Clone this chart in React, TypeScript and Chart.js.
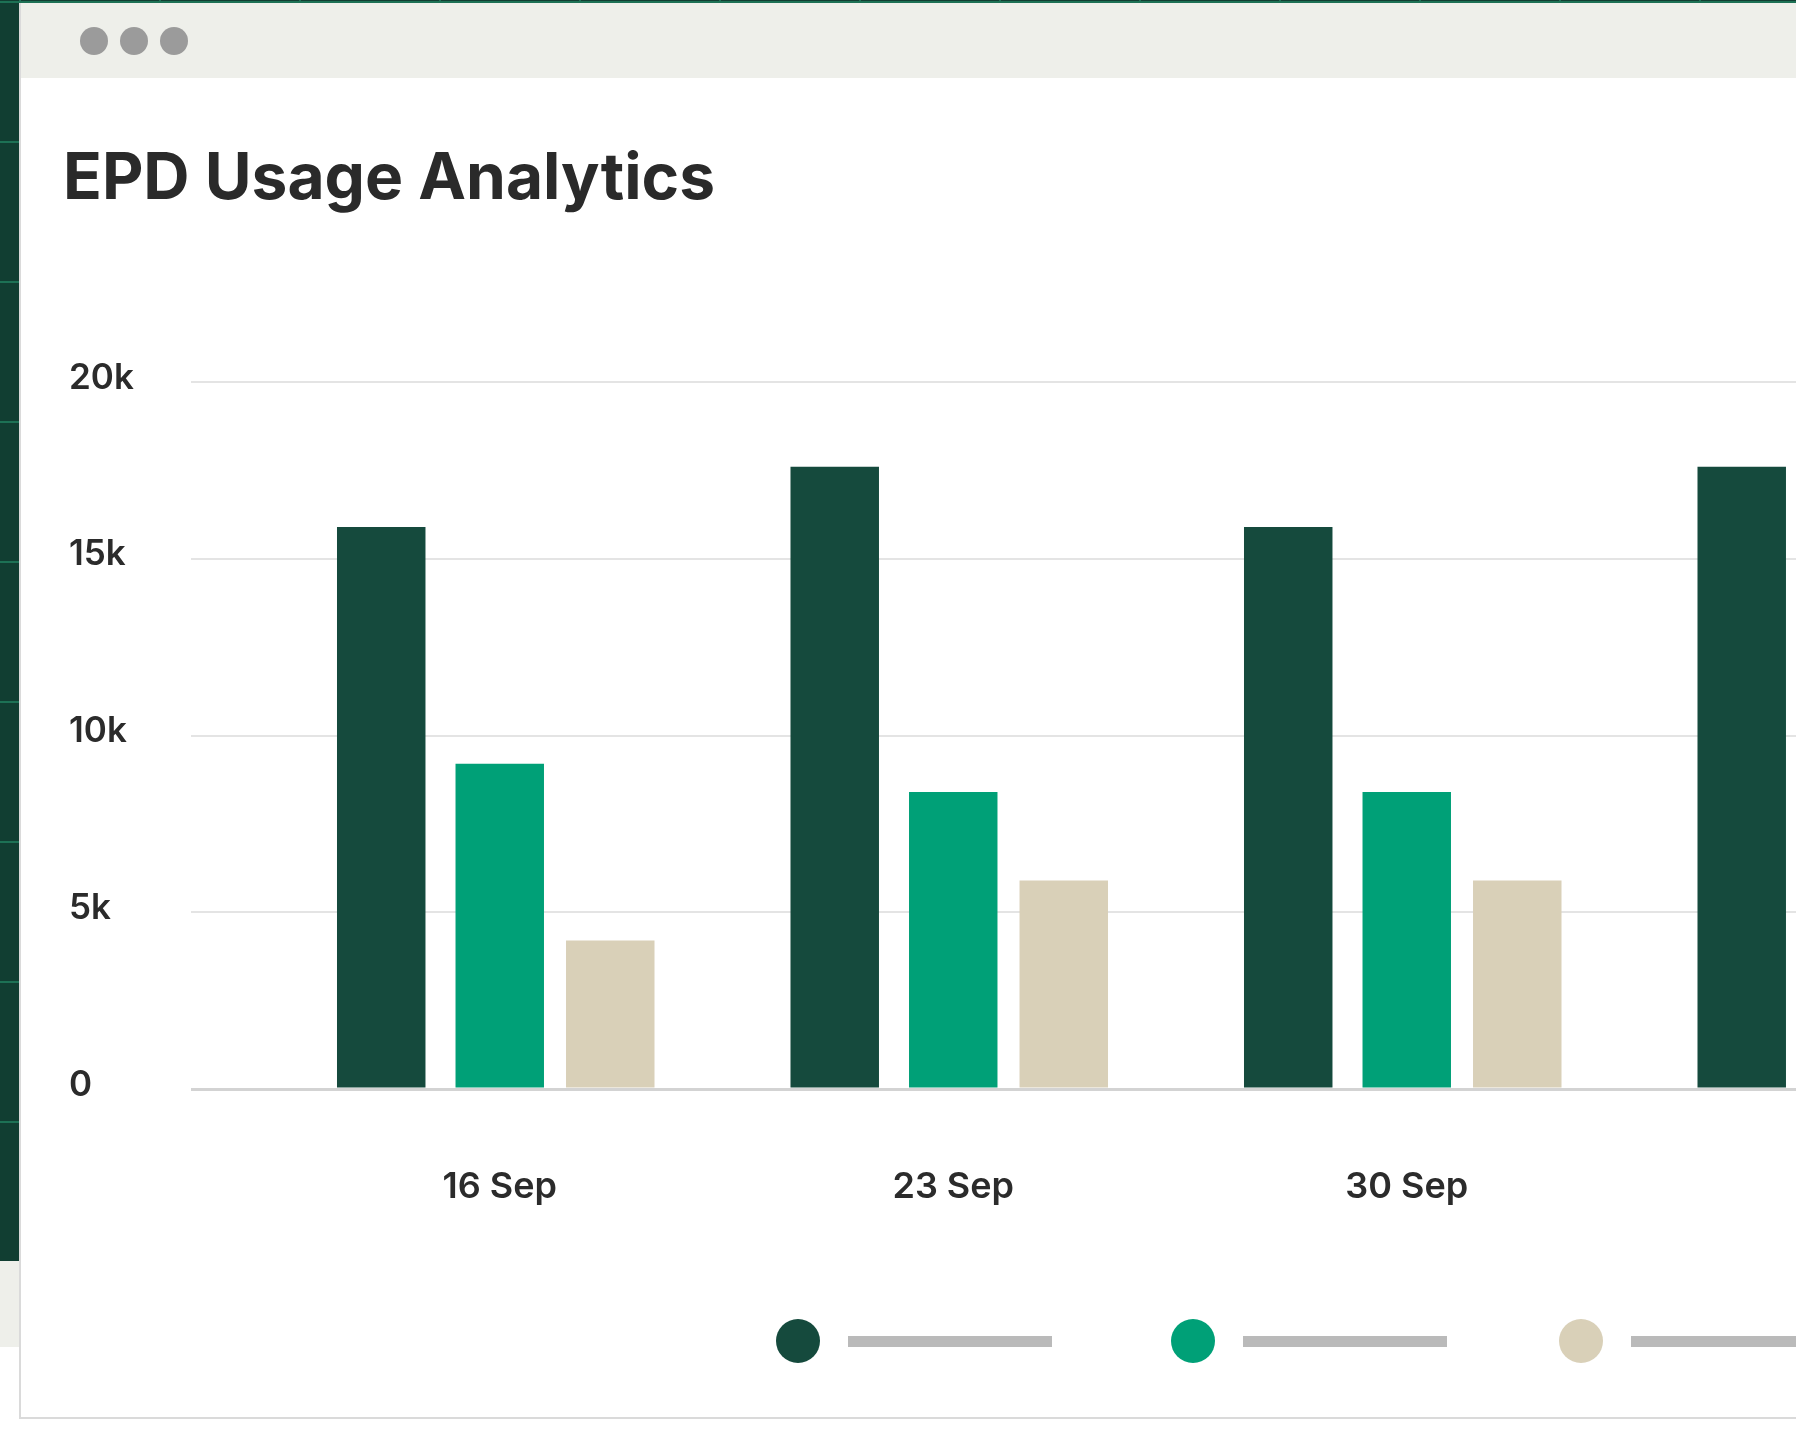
import React, { useEffect, useRef } from "react";
import { Chart, registerables } from "chart.js";

Chart.register(...registerables);

const categories = ["16 Sep", "23 Sep", "30 Sep", "7 Oct"];
const seriesNames = ["Series A", "Series B", "Series C"];
const seriesA = [15900, 17600, 15900, 17600];
const seriesB = [9200, 8400, 8400, 9200];
const seriesC = [4200, 5900, 5900, 4200];
const seriesColors = ["#154a3d", "#00a077", "#d9d0b8"];
const yTicks = [0, 5000, 10000, 15000, 20000];

// per-series grouping style (spacing inside each group)
const seriesCategoryPct = [0.784, 0.76, 0.7311];
const seriesBarPct = [0.7466, 0.770, 0.8007];

const FONT = "Inter, 'Noto Sans', sans-serif";

export default function App() {
  const canvasRef = useRef<HTMLCanvasElement | null>(null);

  useEffect(() => {
    if (!canvasRef.current) return;
    const chart = new Chart(canvasRef.current, {
      type: "bar",
      data: {
        labels: categories,
        datasets: [seriesA, seriesB, seriesC].map((d, i) => ({
          label: seriesNames[i],
          data: d,
          backgroundColor: seriesColors[i],
          borderWidth: 0,
          categoryPercentage: seriesCategoryPct[i],
          barPercentage: seriesBarPct[i],
        })),
      },
      options: {
        animation: false,
        responsive: false,
        devicePixelRatio: 1,
        layout: { padding: { left: 69, top: 382, right: 0, bottom: 0 } },
        plugins: {
          legend: { display: false },
          tooltip: { enabled: false },
          title: { display: false },
        },
        scales: {
          x: {
            type: "category",
            offset: true,
            grid: { display: false, drawTicks: false },
            border: { display: false },
            ticks: {
              padding: 77,
              color: "#2b2b2b",
              font: { family: FONT, size: 36, weight: "600" },
              maxRotation: 0,
              autoSkip: false,
            },
            afterFit: (scale: any) => {
              scale.height = 130;
            },
          },
          y: {
            min: 0,
            max: 20000,
            afterBuildTicks: (scale: any) => {
              scale.ticks = yTicks.map((v) => ({ value: v }));
            },
            grid: {
              drawTicks: true,
              tickLength: 82,
              color: (ctx: any) =>
                ctx.tick && ctx.tick.value === 0 ? "#d3d3d3" : "#e4e4e4",
              lineWidth: (ctx: any) =>
                ctx.tick && ctx.tick.value === 0 ? 3 : 2,
            },
            border: { display: false },
            ticks: {
              crossAlign: "far",
              labelOffset: -4,
              color: "#2b2b2b",
              font: { family: FONT, size: 35, weight: "600" },
              callback: (v: any) => (Number(v) === 0 ? "0" : Number(v) / 1000 + "k"),
            },
            afterFit: (scale: any) => {
              scale.width = 204;
            },
          },
        },
      },
    });
    return () => chart.destroy();
  }, []);

  const dots = [94, 134, 174];
  const legendLeft = [776, 1171, 1559];

  return (
    <div
      style={{
        position: "fixed",
        left: 0,
        top: 0,
        width: 1796,
        height: 1432,
        overflow: "hidden",
        background: "#ffffff",
        fontFamily: FONT,
      }}
    >
      {/* dark grid background */}
      <div
        style={{
          position: "absolute",
          left: 0,
          top: 0,
          width: 1796,
          height: 1261,
          backgroundColor: "#113e32",
          backgroundImage:
            "linear-gradient(to right, #1d7155 0px, #1d7155 2px, transparent 2px), linear-gradient(to bottom, #1d7155 0px, #1d7155 2px, transparent 2px)",
          backgroundSize: "140px 140px",
          backgroundPosition: "19px 1px",
        }}
      />
      <div
        style={{
          position: "absolute",
          left: 0,
          top: 1261,
          width: 20,
          height: 86,
          background: "#eeefea",
        }}
      />
      {/* panel */}
      <div
        style={{
          position: "absolute",
          left: 19,
          top: 3,
          width: 1800,
          height: 1414,
          background: "#ffffff",
          borderLeft: "2px solid #dadada",
          borderBottom: "2px solid #dadada",
        }}
      />
      {/* chrome bar */}
      <div
        style={{
          position: "absolute",
          left: 21,
          top: 3,
          width: 1780,
          height: 75,
          background: "#eeefea",
        }}
      />
      {dots.map((cx, i) => (
        <div
          key={i}
          style={{
            position: "absolute",
            left: cx - 14,
            top: 41 - 14,
            width: 28,
            height: 28,
            borderRadius: "50%",
            background: "#9b9b9b",
          }}
        />
      ))}
      {/* title */}
      <div
        style={{
          position: "absolute",
          left: 63,
          top: 144,
          fontSize: 64,
          lineHeight: "64px",
          fontWeight: 700,
          letterSpacing: "0px",
          color: "#2a2a2a",
          whiteSpace: "nowrap",
        }}
      >
        EPD Usage Analytics
      </div>
      <canvas
        ref={canvasRef}
        width={2087}
        height={1219}
        style={{ position: "absolute", left: 0, top: 0, width: 2087, height: 1219 }}
      />
      {/* legend */}
      {seriesColors.map((c, i) => (
        <div
          key={i}
          style={{
            position: "absolute",
            left: legendLeft[i],
            top: 1319,
            height: 44,
            display: "flex",
            alignItems: "center",
          }}
        >
          <div
            style={{ width: 44, height: 44, borderRadius: "50%", background: c }}
          />
          <div
            style={{
              marginLeft: 28,
              width: 204,
              height: 11,
              background: "#bababa",
            }}
          />
        </div>
      ))}
    </div>
  );
}
